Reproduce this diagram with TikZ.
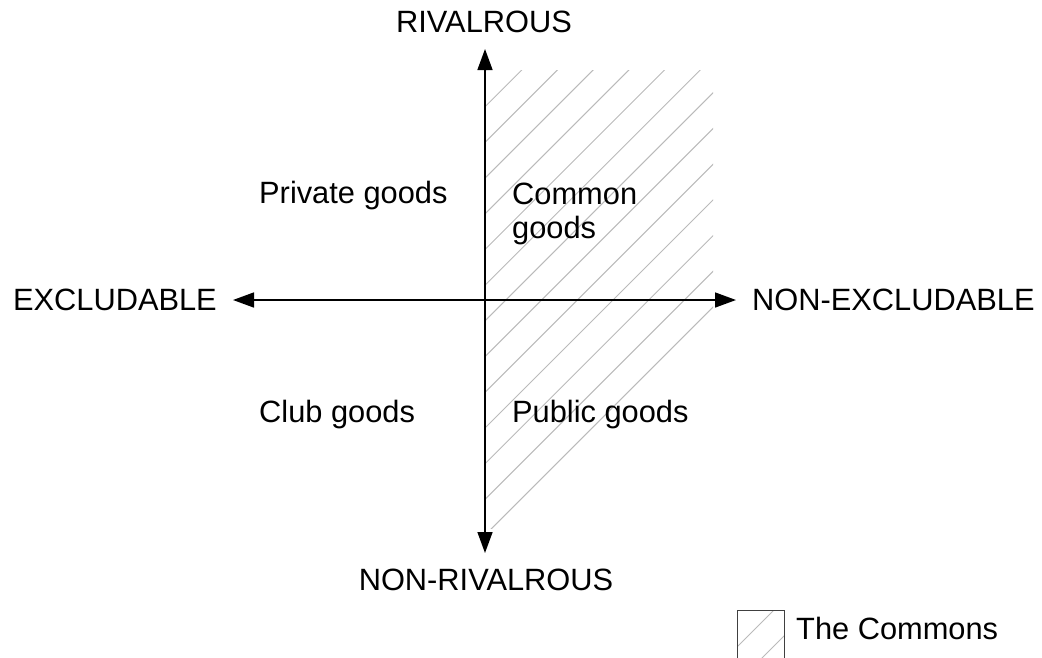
\documentclass[tikz,border=0pt]{standalone}
\usepackage{fontspec}
\setmainfont{Liberation Sans}
\usetikzlibrary{arrows.meta}
\begin{document}
\begin{tikzpicture}[x=1pt,y=-1pt,
  lbl/.style={font=\fontsize{30.8}{34.5}\selectfont, inner sep=0pt, text=black},
  axis/.style={line width=1.5pt, -{Triangle[length=21pt,width=15pt]}},
  hatchline/.style={draw=black!27, line width=1pt},
  legendbox/.style={draw=black!75, line width=1pt}]
\useasboundingbox (0,0) rectangle (1042,657);
% hatched region
\begin{scope}
  \clip (485,70) rectangle (713,528);
  \foreach \k in {-16,...,12} {
    \pgfmathsetmacro{\c}{591.7+35.7*\k}
    \draw[hatchline] (\c-600,600) -- (\c,0);
  }
\end{scope}
% legend
\begin{scope}
  \clip (737,610) rectangle (784,660);
  \foreach \k in {-2,...,2} {
    \pgfmathsetmacro{\c}{1384+36*\k}
    \draw[hatchline] (\c-700,700) -- (\c-600,600);
  }
\end{scope}
\draw[legendbox] (737,660) -- (737,610) -- (784,610) -- (784,660);
% axes
\coordinate (center) at (485,300);
\coordinate (top) at (485,49);
\coordinate (bottom) at (485,553);
\coordinate (left) at (233,300);
\coordinate (right) at (736,300);
\draw[axis] (center) -- (top);
\draw[axis] (center) -- (bottom);
\draw[axis] (center) -- (left);
\draw[axis] (center) -- (right);
% labels
\node[lbl, anchor=base] (riv) at (484,32.5) {RIVALROUS};
\node[lbl, anchor=base] (nriv) at (486,590) {NON-RIVALROUS};
\node[lbl, anchor=base east] (excl) at (217,310) {EXCLUDABLE};
\node[lbl, anchor=base west] (nexcl) at (752,310) {NON-EXCLUDABLE};
\node[lbl, anchor=base west] (priv) at (259,203.5) {Private goods};
\node[lbl, anchor=base west, align=left] (comm) at (512,238.5) {Common\\goods};
\node[lbl, anchor=base west] (club) at (259,422) {Club goods};
\node[lbl, anchor=base west] (pub) at (512,422) {Public goods};
\node[lbl, anchor=base west] (thecommons) at (796,639.5) {The Commons};
\end{tikzpicture}
\end{document}
